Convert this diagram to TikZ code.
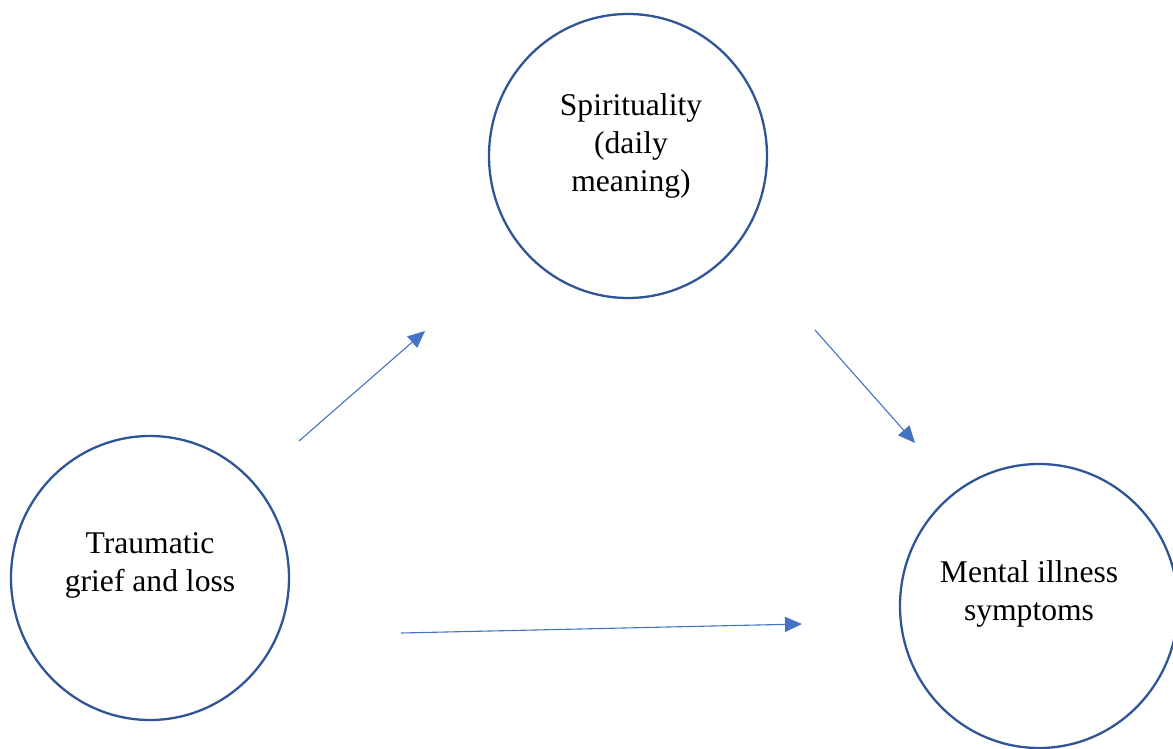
\documentclass[tikz,border=0pt]{standalone}
\usepackage{fontspec}
\setmainfont{Liberation Serif}
\usetikzlibrary{shapes.geometric,arrows.meta}
\definecolor{ringblue}{HTML}{2F5597}
\definecolor{arrowblue}{HTML}{4472C4}
\tikzset{
  ring/.style={ellipse, draw=ringblue, line width=2.3pt, inner sep=0pt,
               minimum width=278pt, minimum height=284pt},
  caption/.style={align=center, font=\fontsize{31.6}{38}\selectfont, inner sep=0pt},
  link/.style={draw=arrowblue, line width=1.1pt,
               -{Triangle[length=17pt,width=15pt]}}
}
\begin{document}
\begin{tikzpicture}[x=1pt,y=-1pt]
  \useasboundingbox (0,0) rectangle (1173,749);
  % the three constructs
  \node[ring] (spirit) at (628,156) {};
  \node[ring] (grief)  at (150,578) {};
  \node[ring] (mental) at (1039,606) {};
  \node[caption] (spiritText) at (631,146) {Spirituality\\(daily\\meaning)};
  \node[caption] (griefText)  at (150,565) {Traumatic\\grief and loss};
  \node[caption] (mentalText) at (1029,594) {Mental illness\\symptoms};
  % path endpoints
  \coordinate (a1) at (299,441);
  \coordinate (a2) at (425,331);
  \coordinate (b1) at (815,330);
  \coordinate (b2) at (915,443);
  \coordinate (c1) at (401,633);
  \coordinate (c2) at (802,624);
  \draw[link] (a1) -- (a2);
  \draw[link] (b1) -- (b2);
  \draw[link] (c1) -- (c2);
\end{tikzpicture}
\end{document}
